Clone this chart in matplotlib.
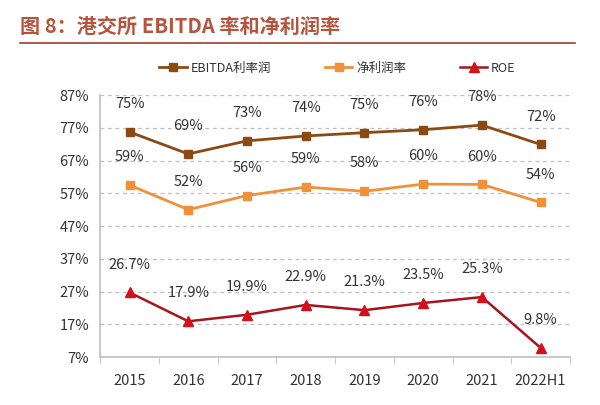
import numpy as np
import matplotlib
matplotlib.use("Agg")
import matplotlib.pyplot as plt
from matplotlib.lines import Line2D

plt.rcParams['font.family'] = ['Noto Sans CJK SC', 'DejaVu Sans']

years = ['2015', '2016', '2017', '2018', '2019', '2020', '2021', '2022H1']
ebitda = [75.7, 69.0, 73.0, 74.5, 75.5, 76.4, 77.8, 71.9]
ebitda_lbl = ['75%', '69%', '73%', '74%', '75%', '76%', '78%', '72%']
net = [59.5, 52.0, 56.3, 58.9, 57.6, 59.8, 59.7, 54.2]
net_lbl = ['59%', '52%', '56%', '59%', '58%', '60%', '60%', '54%']
roe = [26.7, 17.9, 19.9, 22.9, 21.3, 23.5, 25.3, 9.8]
yticks = [7, 17, 27, 37, 47, 57, 67, 77, 87]

c_ebitda = '#8B4A14'
c_net = '#F0913A'
c_roe = '#A8141E'
c_roe_mk = '#D4101A'

fig = plt.figure(figsize=(6, 4.05), dpi=100)
fig.text(0.033, 0.935, '图 8：港交所 EBITDA 率和净利润率', fontsize=14.5, fontweight='bold',
         color='#B5553F', va='center', ha='left')
fig.add_artist(Line2D([0.033, 0.958], [0.893, 0.893], color='#9E3B2E', lw=1.2))

ax = fig.add_axes([0.167, 0.1185, 0.783, 0.6469])
x = np.arange(len(years))

ax.plot(x, ebitda, color=c_ebitda, lw=2, marker='s', ms=6, label='EBITDA利率润')
ax.plot(x, net, color=c_net, lw=2, marker='s', ms=6, label='净利润率')
ax.plot(x, roe, color=c_roe, lw=1.8, marker='^', ms=7, mfc=c_roe_mk, mec=c_roe_mk, label='ROE')

for xi, v, t in zip(x, ebitda, ebitda_lbl):
    ax.annotate(t, (xi, v), xytext=(0, 15), textcoords='offset points', ha='center',
                va='bottom', fontsize=10.5, color='#333333')
for xi, v, t in zip(x, net, net_lbl):
    ax.annotate(t, (xi, v), xytext=(0, 15), textcoords='offset points', ha='center',
                va='bottom', fontsize=10.5, color='#333333')
for xi, v in zip(x, roe):
    ax.annotate(f'{v:.1f}%', (xi, v), xytext=(0, 15), textcoords='offset points', ha='center',
                va='bottom', fontsize=10.5, color='#333333')

ax.set_xlim(-0.5, len(years) - 0.5)
ax.set_ylim(7, 87)
ax.set_yticks(yticks)
ax.set_yticklabels([f'{t}%' for t in yticks], fontsize=10.5, color='#333333')
ax.set_xticks(x)
ax.set_xticklabels(years, fontsize=10.5, color='#333333')
ax.tick_params(axis='x', length=0, pad=12)
ax.tick_params(axis='y', length=0, pad=8)
ax.set_xticks(np.arange(-0.5, len(years)), minor=True)
ax.tick_params(axis='x', which='minor', length=5, color='#BFBFBF', direction='out')
ax.grid(axis='y', color='#BFBFBF', ls=(0, (3, 3)), lw=0.9)
ax.set_axisbelow(True)
for s in ['top', 'right']:
    ax.spines[s].set_visible(False)
for s in ['left', 'bottom']:
    ax.spines[s].set_color('#BFBFBF')
    ax.spines[s].set_linewidth(1.2)

leg = ax.legend(loc='lower center', bbox_to_anchor=(0.505, 1.035), ncol=3, frameon=False,
                fontsize=9, handlelength=2.2, columnspacing=4.3, handletextpad=0.3)
for t in leg.get_texts():
    t.set_color('#333333')

fig.savefig('out.png', dpi=100)
